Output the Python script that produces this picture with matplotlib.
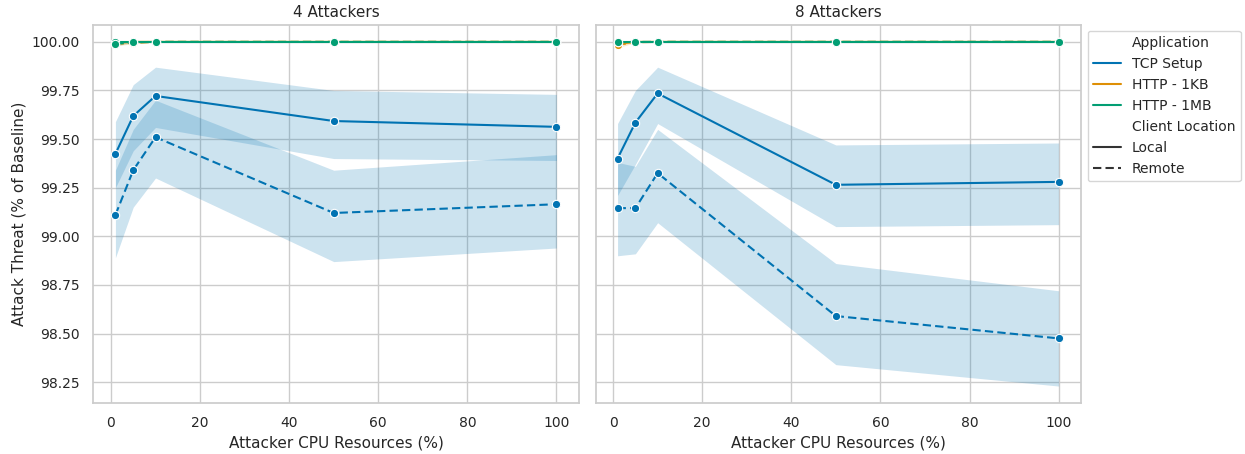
import numpy as np
import matplotlib
matplotlib.use("Agg")
import matplotlib.pyplot as plt
import seaborn as sns
from matplotlib.lines import Line2D

sns.set_theme(style="whitegrid", palette="colorblind")
plt.rcParams['font.family'] = ['DejaVu Sans']

cpu = [1, 5, 10, 50, 100]
panels = ["4 Attackers", "8 Attackers"]
apps = ["TCP Setup", "HTTP - 1KB", "HTTP - 1MB"]
locations = ["Local", "Remote"]

# mean, lower CI, upper CI per panel / application / location
tcp_local_4 = [99.424, 99.619, 99.722, 99.593, 99.563]
tcp_local_4_lo = [99.25, 99.44, 99.56, 99.40, 99.39]
tcp_local_4_hi = [99.59, 99.78, 99.87, 99.75, 99.73]
tcp_remote_4 = [99.11, 99.34, 99.51, 99.12, 99.165]
tcp_remote_4_lo = [98.89, 99.15, 99.30, 98.87, 98.94]
tcp_remote_4_hi = [99.34, 99.55, 99.70, 99.34, 99.42]

tcp_local_8 = [99.40, 99.585, 99.735, 99.265, 99.28]
tcp_local_8_lo = [99.21, 99.37, 99.58, 99.05, 99.06]
tcp_local_8_hi = [99.58, 99.75, 99.87, 99.47, 99.48]
tcp_remote_8 = [99.145, 99.145, 99.325, 98.59, 98.475]
tcp_remote_8_lo = [98.90, 98.91, 99.07, 98.34, 98.23]
tcp_remote_8_hi = [99.38, 99.36, 99.55, 98.86, 98.72]

http1kb_local_4 = [99.995, 100.0, 100.0, 100.0, 100.0]
http1kb_remote_4 = [99.99, 99.995, 100.0, 100.0, 100.0]
http1mb_local_4 = [100.0, 100.0, 100.0, 100.0, 100.0]
http1mb_remote_4 = [99.99, 99.998, 100.0, 100.0, 100.0]
http1kb_local_8 = [99.99, 100.0, 100.0, 100.0, 100.0]
http1kb_remote_8 = [99.985, 99.998, 100.0, 100.0, 100.0]
http1mb_local_8 = [100.0, 100.0, 100.0, 100.0, 100.0]
http1mb_remote_8 = [99.998, 100.0, 100.0, 100.0, 100.0]

series = {
    "4 Attackers": {
        ("TCP Setup", "Local"): (tcp_local_4, tcp_local_4_lo, tcp_local_4_hi),
        ("TCP Setup", "Remote"): (tcp_remote_4, tcp_remote_4_lo, tcp_remote_4_hi),
        ("HTTP - 1KB", "Local"): (http1kb_local_4, None, None),
        ("HTTP - 1KB", "Remote"): (http1kb_remote_4, None, None),
        ("HTTP - 1MB", "Local"): (http1mb_local_4, None, None),
        ("HTTP - 1MB", "Remote"): (http1mb_remote_4, None, None),
    },
    "8 Attackers": {
        ("TCP Setup", "Local"): (tcp_local_8, tcp_local_8_lo, tcp_local_8_hi),
        ("TCP Setup", "Remote"): (tcp_remote_8, tcp_remote_8_lo, tcp_remote_8_hi),
        ("HTTP - 1KB", "Local"): (http1kb_local_8, None, None),
        ("HTTP - 1KB", "Remote"): (http1kb_remote_8, None, None),
        ("HTTP - 1MB", "Local"): (http1mb_local_8, None, None),
        ("HTTP - 1MB", "Remote"): (http1mb_remote_8, None, None),
    },
}

colors = dict(zip(apps, sns.color_palette("colorblind")[:3]))
dashes = {"Local": "-", "Remote": (0, (4, 2))}

fig, axes = plt.subplots(1, 2, figsize=(12.45, 4.54), dpi=100, sharey=True)
fig.subplots_adjust(left=0.075, right=0.868, top=0.945, bottom=0.112, wspace=0.035)

for ax, name in zip(axes, panels):
    for app in apps:
        for loc in locations:
            mean, lo, hi = series[name][(app, loc)]
            c = colors[app]
            if lo is not None:
                ax.fill_between(cpu, lo, hi, color=c, alpha=0.2, lw=0)
            else:
                m = np.array(mean)
                ax.fill_between(cpu, m - (100 - m), np.minimum(100, m + (100 - m) / 2),
                                color=c, alpha=0.2, lw=0)
            ax.plot(cpu, mean, color=c, linestyle=dashes[loc], lw=1.5,
                    marker="o", markersize=6, markeredgecolor="white",
                    markeredgewidth=0.8)
    ax.set_title(name, fontsize=11)
    ax.set_xlabel("Attacker CPU Resources (%)", fontsize=11)
    ax.set_xlim(-3.95, 104.95)
    ax.set_xticks([0, 20, 40, 60, 80, 100])
    ax.tick_params(labelsize=10)

axes[0].set_ylim(98.142, 100.087)
axes[0].set_yticks([98.25, 98.5, 98.75, 99.0, 99.25, 99.5, 99.75, 100.0])
axes[0].set_yticklabels([f"{v:.2f}" for v in axes[0].get_yticks()])
axes[0].set_ylabel("Attack Threat (% of Baseline)", fontsize=11)

handles = [Line2D([], [], color="none", label="Application")]
handles += [Line2D([], [], color=colors[a], lw=1.5, label=a) for a in apps]
handles += [Line2D([], [], color="none", label="Client Location")]
handles += [Line2D([], [], color="#333333", lw=1.5, linestyle=dashes[l], label=l)
            for l in locations]
fig.legend(handles=handles, loc="upper left", bbox_to_anchor=(0.868, 0.948),
           fontsize=10, frameon=True, handlelength=2.0)

fig.savefig("out.png", dpi=100)
